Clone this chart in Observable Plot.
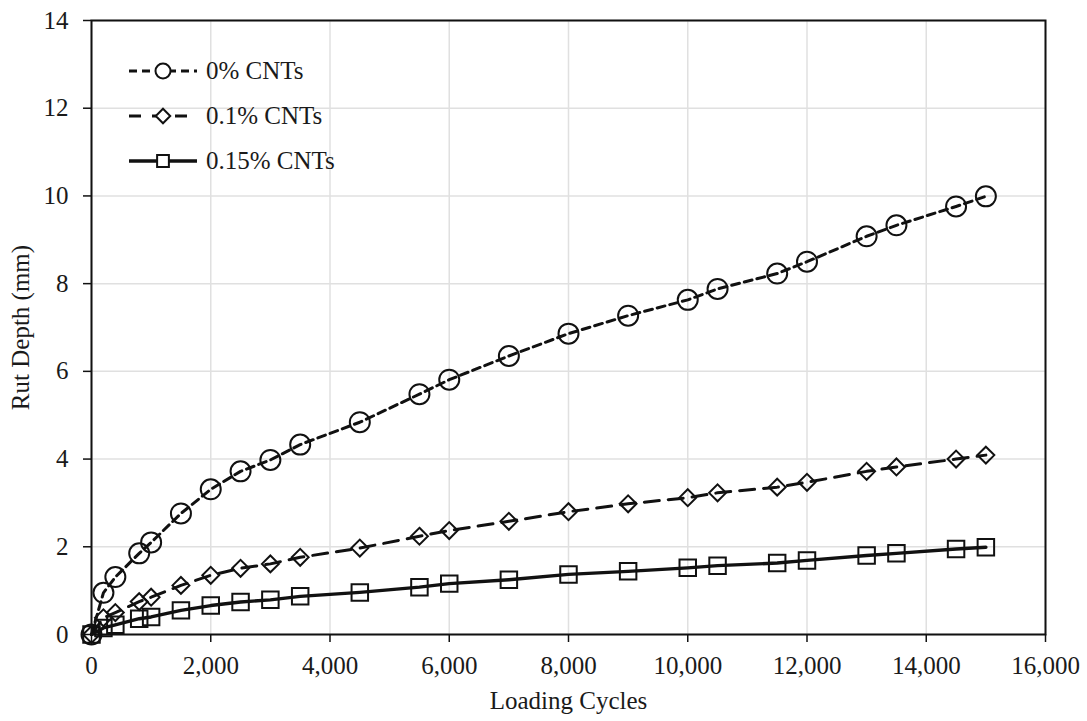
<!DOCTYPE html>
<html>
<head>
<meta charset="utf-8">
<script src="https://cdn.jsdelivr.net/npm/d3@7"></script>
<script src="https://cdn.jsdelivr.net/npm/@observablehq/plot@0.6"></script>
<style>
  html, body { margin: 0; padding: 0; background: #fff; }
  #wrap { position: relative; width: 1087px; height: 721px; }
  #legend { position: absolute; left: 128px; top: 48px; font-family: "Liberation Serif", "Times New Roman", serif; font-size: 25px; color: #1a1a1a; }
  .row { display: flex; align-items: center; height: 45px; }
  .row svg { display: block; margin-right: 8px; }
</style>
</head>
<body>
<div id="wrap"><div id="legend"></div></div>
<script>
// ---- data ----
const cycles = [0, 200, 400, 800, 1000, 1500, 2000, 2500, 3000, 3500, 4500, 5500, 6000, 7000, 8000, 9000, 10000, 10500, 11500, 12000, 13000, 13500, 14500, 15000];
const cnt0   = [0, 0.95, 1.31, 1.85, 2.10, 2.76, 3.31, 3.72, 3.98, 4.33, 4.84, 5.48, 5.81, 6.35, 6.86, 7.27, 7.63, 7.88, 8.23, 8.50, 9.08, 9.33, 9.76, 9.99];
const cnt01  = [0, 0.38, 0.50, 0.75, 0.85, 1.12, 1.35, 1.51, 1.61, 1.76, 1.97, 2.24, 2.37, 2.58, 2.80, 2.98, 3.12, 3.23, 3.36, 3.47, 3.72, 3.82, 4.00, 4.09];
const cnt015 = [0, 0.15, 0.22, 0.36, 0.40, 0.55, 0.66, 0.74, 0.79, 0.87, 0.96, 1.08, 1.16, 1.25, 1.37, 1.44, 1.52, 1.57, 1.63, 1.69, 1.80, 1.85, 1.95, 1.99];
const seriesNames = ["0% CNTs", "0.1% CNTs", "0.15% CNTs"];
const xTicks = [0, 2000, 4000, 6000, 8000, 10000, 12000, 14000, 16000];
const yTicks = [0, 2, 4, 6, 8, 10, 12, 14];

// ---- styles ----
const styles = [
  {symbol: "circle",   r: 10,   dash: "8,5",  width: 3.0, legendR: 7.5, legendDash: "8,5"},
  {symbol: "diamond2", r: 7.6,  dash: "15,9", width: 3.0, legendR: 6.5, legendDash: "12,11"},
  {symbol: "square2",  r: 10.5, dash: null,   width: 3.4, legendR: 7.5, legendDash: null}
];
const seriesValues = [cnt0, cnt01, cnt015];
const tables = seriesValues.map(vals => cycles.map((c, i) => ({x: c, y: vals[i]})));

const marks = [
  Plot.gridX(xTicks, {stroke: "#e0e0e0", strokeOpacity: 1, strokeWidth: 1.5}),
  Plot.gridY(yTicks, {stroke: "#e0e0e0", strokeOpacity: 1, strokeWidth: 1.5}),
  Plot.frame({stroke: "#111", strokeWidth: 2}),
  Plot.axisX(xTicks, {tickSize: 8, tickPadding: 14, stroke: "#111", strokeWidth: 1.5, tickFormat: d3.format(","),
    fontSize: 25, fill: "#1a1a1a", label: "Loading Cycles", labelAnchor: "center", labelArrow: "none", labelOffset: 74}),
  Plot.axisY(yTicks, {tickSize: 8, tickPadding: 15, stroke: "#111", strokeWidth: 1.5, tickFormat: d3.format("d"),
    fontSize: 25, fill: "#1a1a1a", label: "Rut Depth (mm)", labelAnchor: "center", labelArrow: "none", labelOffset: 80})
];
tables.forEach((t, k) => {
  const s = styles[k];
  marks.push(Plot.dot(t, {x: "x", y: "y", symbol: s.symbol, r: s.r, stroke: "#111", strokeWidth: 2, fill: "none"}));
  marks.push(Plot.line(t, {x: "x", y: "y", stroke: "#111", strokeWidth: s.width, strokeDasharray: s.dash || undefined}));
});

const chart = Plot.plot({
  width: 1087, height: 721,
  marginLeft: 91, marginRight: 42, marginTop: 20, marginBottom: 87,
  style: {fontFamily: "'Liberation Serif', 'Times New Roman', serif", fontSize: "25px", color: "#1a1a1a", background: "#fff"},
  x: {type: "linear", domain: [0, 16000]},
  y: {type: "linear", domain: [0, 14]},
  marks
});
const wrap = document.getElementById("wrap");
wrap.insertBefore(chart, wrap.firstChild);

// ---- legend ----
const symbolTypes = {circle: d3.symbolCircle, diamond2: d3.symbolDiamond2, square2: d3.symbolSquare2};
const legend = d3.select("#legend");
seriesNames.forEach((name, k) => {
  const s = styles[k];
  const row = legend.append("div").attr("class", "row");
  const svg = row.append("svg").attr("width", 70).attr("height", 30);
  svg.append("line").attr("x1", 1).attr("x2", 69).attr("y1", 15).attr("y2", 15)
    .attr("stroke", "#111").attr("stroke-width", s.width)
    .attr("stroke-dasharray", s.legendDash);
  svg.append("path").attr("transform", "translate(35,15)")
    .attr("d", d3.symbol(symbolTypes[s.symbol], Math.PI * s.legendR * s.legendR)())
    .attr("fill", "#fff").attr("stroke", "#111").attr("stroke-width", 2);
  row.append("span").text(name);
});
</script>
</body>
</html>
